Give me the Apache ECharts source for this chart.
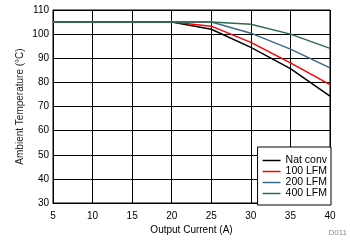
<!DOCTYPE html>
<html><head><meta charset="utf-8">
<script src="https://cdn.jsdelivr.net/npm/echarts@6/dist/echarts.min.js"></script>
<style>html,body{margin:0;padding:0;background:#fff}#c{width:350px;height:240px}</style>
</head><body><div id="c"></div>
<script>
var xValues = [5, 10, 15, 20, 25, 30, 35, 40];
var natConv = [105, 105, 105, 105, 102, 94.5, 85.7, 74.3];
var lfm100 = [105, 105, 105, 105, 103.3, 96.6, 88.1, 79.1];
var lfm200 = [105, 105, 105, 105, 105, 100.4, 93.8, 86];
var lfm400 = [105, 105, 105, 105, 105, 104.1, 100, 94.1];
var seriesNames = ['Nat conv', '100 LFM', '200 LFM', '400 LFM'];
var seriesColors = ['#000000', '#ff0000', '#3a6b8a', '#2f6b4a'];
var seriesData = [natConv, lfm100, lfm200, lfm400];

function pairs(arr){ return xValues.map(function(x,i){ return [x, arr[i]]; }); }

var chart = echarts.init(document.getElementById('c'));
var font = 'Liberation Sans, Arial, sans-serif';
chart.setOption({
  animation: false,
  grid: {left: 53, right: 20, top: 10, bottom: 35, show: true, borderColor: '#000', borderWidth: 1},
  legend: {
    right: 19, bottom: 35, orient: 'vertical', itemWidth: 18, itemHeight: 1.5, itemGap: 0,
    padding: [8, 4, 6, 5],
    backgroundColor: '#fff', borderColor: '#000', borderWidth: 1,
    icon: 'rect',
    textStyle: {fontFamily: font, fontSize: 10.5, lineHeight: 11, color: '#000'},
    data: seriesNames
  },
  xAxis: {
    type: 'value', min: 5, max: 40, interval: 5,
    name: 'Output Current (A)', nameLocation: 'middle', nameGap: 22, nameMoveOverlap: false,
    nameTextStyle: {fontFamily: font, fontSize: 10, color: '#000'},
    axisLine: {lineStyle: {color: '#000'}}, axisTick: {show: false},
    axisLabel: {fontFamily: font, fontSize: 10, color: '#000', margin: 8},
    splitLine: {lineStyle: {color: '#000', width: 1}}
  },
  yAxis: {
    type: 'value', min: 30, max: 110, interval: 10,
    name: 'Ambient Temperature (°C)', nameLocation: 'middle', nameGap: 28, nameMoveOverlap: false,
    nameTextStyle: {fontFamily: font, fontSize: 10, color: '#222'},
    axisLine: {lineStyle: {color: '#000'}}, axisTick: {show: false},
    axisLabel: {fontFamily: font, fontSize: 10, color: '#000', margin: 4},
    splitLine: {lineStyle: {color: '#000', width: 1}}
  },
  graphic: [{type: 'text', right: 3, bottom: 3, style: {text: 'D011', fontFamily: font, fontSize: 8, fill: '#888'}}],
  series: seriesData.map(function(d, i){
    return {type: 'line', name: seriesNames[i], data: pairs(d), symbol: 'none',
      lineStyle: {color: seriesColors[i], width: 1.5}, itemStyle: {color: seriesColors[i]}};
  })
});
</script></body></html>
